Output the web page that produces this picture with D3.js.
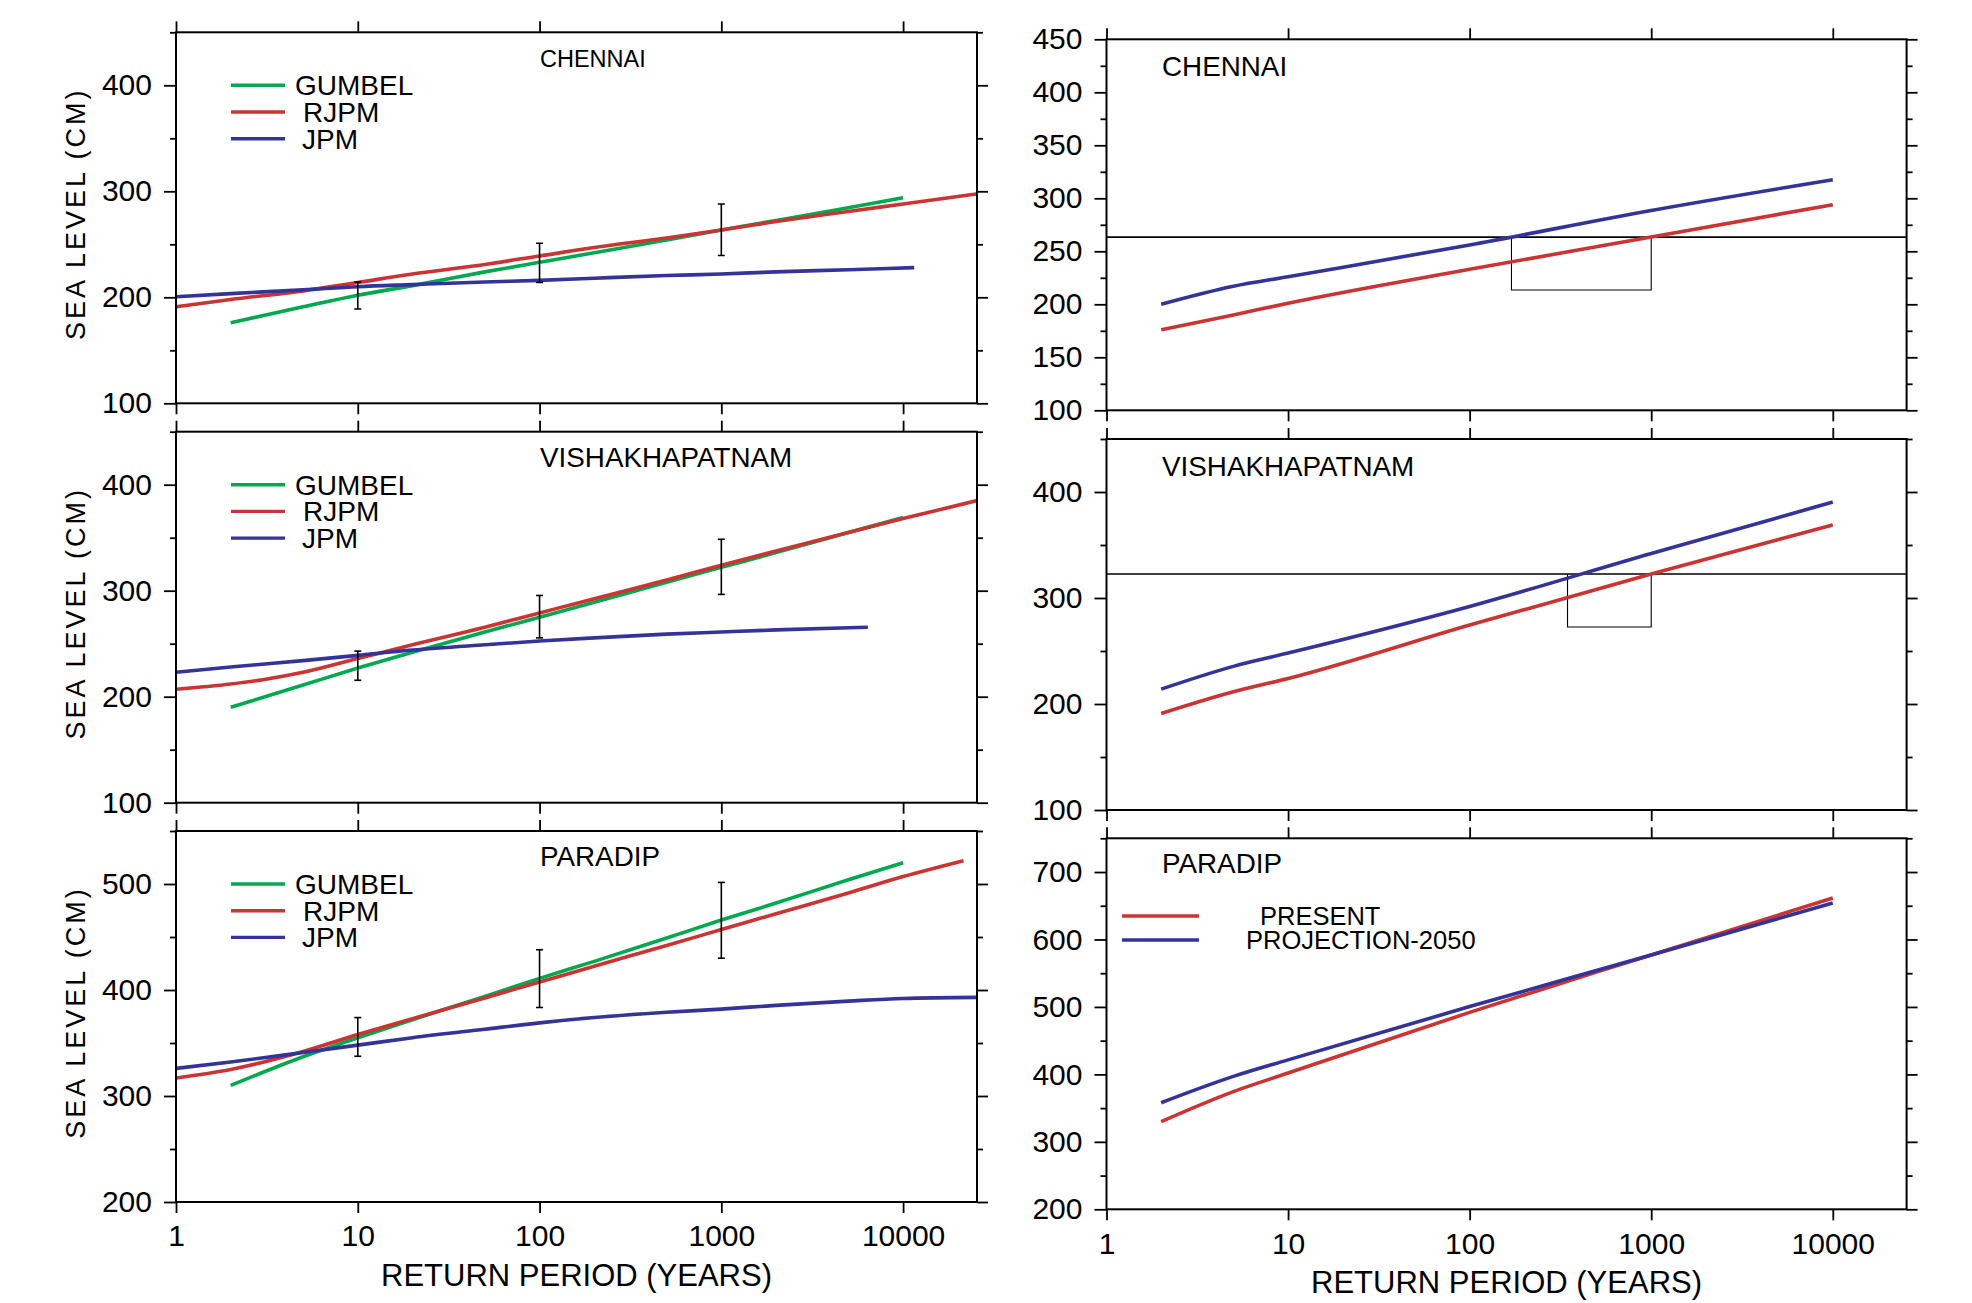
<!DOCTYPE html>
<html>
<head>
<meta charset="utf-8">
<script src="https://cdn.jsdelivr.net/npm/d3@7"></script>
<style>
  body { margin: 0; background: #fff; }
  text { font-family: "Liberation Sans", Arial, Helvetica, sans-serif; fill: #000; }
</style>
</head>
<body>
<svg id="chart" width="1972" height="1303"></svg>
<script>
// ---- data: [return period (years), sea level (cm)] ----
const decades = [1, 10, 100, 1000, 10000]

const chennaiGumbel = [[2,176],[5,191],[10,202],[20,211],[50,224],[100,233],[200,242],[500,254],[1000,263.5],[2000,272.5],[5000,284.5],[10000,294]]
const chennaiRjpm   = [[1,191],[2,198],[5,206],[10,214],[20,222],[50,231],[100,239],[200,247],[500,256],[1000,263.5],[2000,271.5],[5000,281],[10000,288],[25500,297.5]]
const chennaiJpm    = [[1,200.5],[2,203.5],[5,207],[10,210],[20,212],[50,214.5],[100,216],[200,218],[500,220.5],[1000,222],[2000,224],[5000,226],[11500,228]]
const chennaiBars   = [[10,189,214.5],[100,214,251],[1000,239.5,288]]

const vizagGumbel = [[2,190],[5,211],[10,227],[20,242],[50,261],[100,275],[200,289],[500,308],[1000,322],[2000,336],[5000,355],[10000,369]]
const vizagRjpm   = [[1,207],[2,212],[3,216],[5,223],[10,236],[20,249],[50,265.5],[100,279],[200,292.5],[500,310],[1000,324],[2000,337.5],[5000,355],[10000,368],[25500,385]]
const vizagJpm    = [[1,223],[2,228],[5,234],[10,239],[20,244],[50,249],[100,252.5],[200,255.5],[500,259],[1000,261],[2000,263],[6400,265.5]]
const vizagBars   = [[10,215.5,243],[100,255.5,295.5],[1000,296.5,348.5]]

const paradipGumbel = [[2,310],[5,337],[10,355],[20,372],[50,394],[100,411],[200,427],[500,449],[1000,466],[2000,482],[5000,504],[10000,520]]
const paradipRjpm   = [[1,317],[2,325],[5,342],[10,358],[20,373],[50,392.5],[100,407.5],[200,422.5],[500,442],[1000,457],[2000,472],[5000,491.5],[10000,507],[21500,522]]
const paradipJpm    = [[1,326],[2,332],[5,341],[10,348],[20,355],[50,363],[100,369],[200,374],[500,379],[1000,382],[2000,385.5],[5000,389.5],[10000,392],[25500,393]]
const paradipBars   = [[10,337.5,374],[100,383.5,438],[1000,430,501.5]]

// right column: present vs projection-2050
const projPeriods    = [2, 5, 10, 100, 1000, 10000]
const chennaiPresent = [176, 190, 201, 233, 263.4, 294]
const chennaiProj    = [200, 217, 226, 256, 288.5, 317.5]
const vizagPresent   = [191, 211.5, 224, 274.5, 322.6, 369]
const vizagProj      = [214, 235.5, 248, 292, 342, 390.5]
const paradipPresent = [330, 374.5, 402, 492, 577, 661.5]
const paradipProj    = [358, 397, 421.5, 500.5, 577, 654]

// threshold box: [from T, to T, bottom level, threshold level]
const chennaiBox = [170, 1000, 213.5, 263.4]
const vizagBox   = [346, 1000, 272.6, 322.6]

const leftLegend  = ["GUMBEL", "RJPM", "JPM"]
const rightLegend = ["PRESENT", "PROJECTION-2050"]

const GREEN = "#00a94f", RED = "#cc3333", BLUE = "#333399"

const svg = d3.select("#chart")
svg.append("rect").attr("width", 1972).attr("height", 1303).attr("fill", "#fff")

const zip = (ts, vs) => ts.map((t, i) => [t, vs[i]])

function styleAxis(g, fs) {
    g.select(".domain").remove()
    g.selectAll("line").attr("stroke", "#000").attr("stroke-width", 1.8)
    g.selectAll("text").attr("fill", "#000").style("font-size", fs + "px")
        .style("font-family", '"Liberation Sans", Arial, sans-serif')
}

let clipId = 0
function drawPanel(cfg) {
    const x = d3.scaleLog().domain([1, 25500]).range([cfg.x0, cfg.x1])
    const y = d3.scaleLinear().domain(cfg.yDomain).range([cfg.top + cfg.h, cfg.top])
    const g = svg.append("g")
    const bottom = cfg.top + cfg.h

    // y ticks, left with labels, right outward
    g.append("g").attr("transform", `translate(${cfg.x0},0)`)
        .call(d3.axisLeft(y).tickValues(cfg.yMajor).tickSize(12).tickPadding(12).tickSizeOuter(0).tickFormat(d3.format("d")))
        .call(a => styleAxis(a, 30))
    g.append("g").attr("transform", `translate(${cfg.x0},0)`)
        .call(d3.axisLeft(y).tickValues(cfg.yMinor).tickSize(6).tickSizeOuter(0).tickFormat(""))
        .call(a => styleAxis(a, 30))
    g.append("g").attr("transform", `translate(${cfg.x1},0)`)
        .call(d3.axisRight(y).tickValues(cfg.yMajor).tickSize(11).tickSizeOuter(0).tickFormat(""))
        .call(a => styleAxis(a, 30))
    g.append("g").attr("transform", `translate(${cfg.x1},0)`)
        .call(d3.axisRight(y).tickValues(cfg.yMinor).tickSize(6).tickSizeOuter(0).tickFormat(""))
        .call(a => styleAxis(a, 30))

    // x ticks top / bottom
    g.append("g").attr("transform", `translate(0,${cfg.top})`)
        .call(d3.axisTop(x).tickValues(decades).tickSize(11).tickSizeOuter(0).tickFormat(""))
        .call(a => styleAxis(a, 30))
    g.append("g").attr("transform", `translate(0,${bottom})`)
        .call(d3.axisBottom(x).tickValues(decades).tickSize(11).tickPadding(12).tickSizeOuter(0)
            .tickFormat(cfg.showX ? d3.format("d") : ""))
        .call(a => styleAxis(a, 30))

    const id = "clip" + (clipId++)
    svg.append("clipPath").attr("id", id).append("rect")
        .attr("x", cfg.x0).attr("y", cfg.top).attr("width", cfg.x1 - cfg.x0).attr("height", cfg.h)
    const plot = g.append("g").attr("clip-path", `url(#${id})`)

    if (cfg.box) {
        const [t0, t1, lo, lvl] = cfg.box
        plot.append("line").attr("x1", cfg.x0).attr("x2", cfg.x1)
            .attr("y1", y(lvl)).attr("y2", y(lvl)).attr("stroke", "#000").attr("stroke-width", 1.6)
        plot.append("path")
            .attr("d", `M${x(t0)},${y(lvl)}V${y(lo)}H${x(t1)}V${y(lvl)}`)
            .attr("fill", "none").attr("stroke", "#000").attr("stroke-width", 1.1)
    }

    const line = d3.line().x(d => x(d[0])).y(d => y(d[1])).curve(d3.curveMonotoneX)
    cfg.series.forEach(s => {
        plot.append("path").datum(s.pts).attr("d", line)
            .attr("fill", "none").attr("stroke", s.color).attr("stroke-width", 3.6)
    })

    if (cfg.bars) {
        const eb = plot.append("g").attr("stroke", "#000").attr("stroke-width", 1.6)
        cfg.bars.forEach(([t, lo, hi]) => {
            const cx = x(t)
            eb.append("line").attr("x1", cx).attr("x2", cx).attr("y1", y(lo)).attr("y2", y(hi))
            eb.append("line").attr("x1", cx - 3.5).attr("x2", cx + 3.5).attr("y1", y(lo)).attr("y2", y(lo))
            eb.append("line").attr("x1", cx - 3.5).attr("x2", cx + 3.5).attr("y1", y(hi)).attr("y2", y(hi))
        })
    }

    // frame
    g.append("rect").attr("x", cfg.x0).attr("y", cfg.top)
        .attr("width", cfg.x1 - cfg.x0).attr("height", cfg.h)
        .attr("fill", "none").attr("stroke", "#000").attr("stroke-width", 2)

    g.append("text").attr("x", cfg.titleX).attr("y", cfg.top + cfg.titleDy)
        .style("font-size", cfg.titleSize + "px").text(cfg.title)

    if (cfg.legend) {
        const lg = cfg.legend
        lg.labels.forEach((lab, i) => {
            const ly = cfg.top + lg.dy + i * lg.step
            g.append("line").attr("x1", lg.x0).attr("x2", lg.x1).attr("y1", ly).attr("y2", ly)
                .attr("stroke", lg.colors[i]).attr("stroke-width", 3.4)
            g.append("text").attr("x", lg.textX[i]).attr("y", ly).attr("dy", "0.36em")
                .style("font-size", lg.size + "px").text(lab)
        })
    }

    if (cfg.yTitle) {
        g.append("text")
            .attr("transform", `translate(85,${cfg.top + cfg.h / 2 - 4}) rotate(-90)`)
            .attr("text-anchor", "middle").style("font-size", "27px").style("letter-spacing", "3px")
            .text("SEA LEVEL (CM)")
    }
    return { x, y }
}

const L = { x0: 176, x1: 977 }
const R = { x0: 1106.5, x1: 1906.6 }
const leftTops = [32.3, 431.7, 831]
const rightTops = [39.3, 439, 838.3]
const H = 371

const leftLeg = { labels: leftLegend, colors: [GREEN, RED, BLUE], x0: 231, x1: 285, dy: 53, step: 26.7,
                  textX: [295, 303, 302], size: 28 }

// left column
drawPanel({ ...L, top: leftTops[0], h: H, yDomain: [100, 450], yMajor: [100, 200, 300, 400], yMinor: [150, 250, 350, 450],
    title: "CHENNAI", titleX: 540, titleDy: 34.5, titleSize: 23.5, yTitle: true, legend: leftLeg,
    series: [{ pts: chennaiGumbel, color: GREEN }, { pts: chennaiRjpm, color: RED }, { pts: chennaiJpm, color: BLUE }],
    bars: chennaiBars })
drawPanel({ ...L, top: leftTops[1], h: H, yDomain: [100, 450], yMajor: [100, 200, 300, 400], yMinor: [150, 250, 350, 450],
    title: "VISHAKHAPATNAM", titleX: 540, titleDy: 35, titleSize: 27.8, yTitle: true, legend: leftLeg,
    series: [{ pts: vizagGumbel, color: GREEN }, { pts: vizagRjpm, color: RED }, { pts: vizagJpm, color: BLUE }],
    bars: vizagBars })
drawPanel({ ...L, top: leftTops[2], h: H, yDomain: [200, 550], yMajor: [200, 300, 400, 500], yMinor: [250, 350, 450, 550],
    title: "PARADIP", titleX: 540, titleDy: 35, titleSize: 27.8, yTitle: true, legend: leftLeg, showX: true,
    series: [{ pts: paradipGumbel, color: GREEN }, { pts: paradipRjpm, color: RED }, { pts: paradipJpm, color: BLUE }],
    bars: paradipBars })

// right column
drawPanel({ ...R, top: rightTops[0], h: H, yDomain: [100, 450], yMajor: d3.range(100, 451, 50), yMinor: d3.range(125, 450, 50),
    title: "CHENNAI", titleX: 1162, titleDy: 36.5, titleSize: 27.8, box: chennaiBox,
    series: [{ pts: zip(projPeriods, chennaiPresent), color: RED }, { pts: zip(projPeriods, chennaiProj), color: BLUE }] })
drawPanel({ ...R, top: rightTops[1], h: H, yDomain: [100, 450], yMajor: [100, 200, 300, 400], yMinor: [150, 250, 350, 450],
    title: "VISHAKHAPATNAM", titleX: 1162, titleDy: 36.5, titleSize: 27.8, box: vizagBox,
    series: [{ pts: zip(projPeriods, vizagPresent), color: RED }, { pts: zip(projPeriods, vizagProj), color: BLUE }] })
drawPanel({ ...R, top: rightTops[2], h: H, yDomain: [200, 750], yMajor: d3.range(200, 701, 100), yMinor: d3.range(250, 751, 100),
    title: "PARADIP", titleX: 1162, titleDy: 35, titleSize: 27.8, showX: true,
    legend: { labels: rightLegend, colors: [RED, BLUE], x0: 1122, x1: 1199, dy: 77.7, step: 24,
              textX: [1260, 1246], size: 25.5 },
    series: [{ pts: zip(projPeriods, paradipPresent), color: RED }, { pts: zip(projPeriods, paradipProj), color: BLUE }] })

// x axis titles
svg.append("text").attr("x", (L.x0 + L.x1) / 2).attr("y", leftTops[2] + H + 84)
    .attr("text-anchor", "middle").style("font-size", "31px").text("RETURN PERIOD (YEARS)")
svg.append("text").attr("x", (R.x0 + R.x1) / 2).attr("y", rightTops[2] + H + 84)
    .attr("text-anchor", "middle").style("font-size", "31px").text("RETURN PERIOD (YEARS)")
</script>
</body>
</html>
